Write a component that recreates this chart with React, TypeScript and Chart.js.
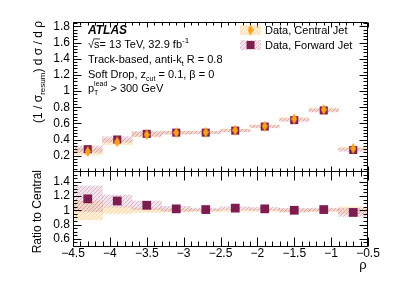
import React, { useEffect, useRef } from "react";
import { Chart, registerables } from "chart.js";
Chart.register(...registerables);

// ---------------- data ----------------
const binCenters = [-4.3, -3.9, -3.5, -3.1, -2.7, -2.3, -1.9, -1.5, -1.1, -0.7];
const centralValues = [0.25, 0.37, 0.46, 0.485, 0.49, 0.515, 0.565, 0.655, 0.77, 0.29];
const centralUnc = [0.04, 0.035, 0.03, 0.018, 0.015, 0.015, 0.015, 0.018, 0.02, 0.018];
const forwardValues = [0.28, 0.4, 0.47, 0.485, 0.485, 0.51, 0.56, 0.64, 0.76, 0.27];
const forwardUnc = [0.04, 0.035, 0.03, 0.018, 0.015, 0.015, 0.015, 0.018, 0.02, 0.018];
const ratioValues = [1.16, 1.13, 1.07, 1.02, 1.01, 1.03, 1.02, 1.0, 1.01, 0.97];
const ratioForwardUnc = [0.18, 0.085, 0.06, 0.035, 0.02, 0.02, 0.02, 0.025, 0.02, 0.055];
const ratioCentralUnc = [0.13, 0.045, 0.03, 0.02, 0.015, 0.015, 0.015, 0.02, 0.02, 0.05];
const xTicks = [-4.5, -4, -3.5, -3, -2.5, -2, -1.5, -1, -0.5];
const topYTicks = [0.2, 0.4, 0.6, 0.8, 1, 1.2, 1.4, 1.6, 1.8];
const ratioYTicks = [0.6, 0.8, 1, 1.2, 1.4];

const FAMILY = "'Liberation Sans', Arial, Helvetica, sans-serif";
const MAROON = "#7e1d50";
const ORANGE = "#f9a21c";

function hatch(bg: string, line: string) {
  const c = document.createElement("canvas");
  c.width = 4;
  c.height = 4;
  const g = c.getContext("2d")!;
  g.fillStyle = bg;
  g.fillRect(0, 0, 4, 4);
  g.strokeStyle = line;
  g.lineWidth = 1;
  g.beginPath();
  g.moveTo(0, 4);
  g.lineTo(4, 0);
  g.moveTo(-1, 1);
  g.lineTo(1, -1);
  g.moveTo(3, 5);
  g.lineTo(5, 3);
  g.stroke();
  return g.createPattern(c, "repeat")!;
}

function diamondImg(w: number, h: number, color: string) {
  const c = document.createElement("canvas");
  c.width = w;
  c.height = h;
  const g = c.getContext("2d")!;
  g.fillStyle = color;
  g.beginPath();
  g.moveTo(w / 2, 0);
  g.lineTo(w, h / 2);
  g.lineTo(w / 2, h);
  g.lineTo(0, h / 2);
  g.closePath();
  g.fill();
  return c;
}

const fmtY = (v: number) => String(Number(Number(v).toFixed(2)));
const fmtX = (v: number) => String(Number(Number(v).toFixed(2))).replace("-", "\u2212");

function range(a: number, b: number, step: number) {
  const out: number[] = [];
  for (let v = a; v <= b + 1e-9; v += step) out.push(Number(v.toFixed(4)));
  return out;
}

type FrameOpts = {
  yMinor: number[];
  xBottomMaj: number;
  xBottomMin: number;
  xTopMaj: number;
  xTopMin: number;
  yMaj: number;
  yMin: number;
};

function framePlugin(o: FrameOpts) {
  return {
    id: "frame",
    afterDraw(chart: any) {
      const { ctx, chartArea: a, scales } = chart;
      const x = scales.x;
      const y = scales.y;
      const L = Math.round(a.left) + 0.5;
      const R = Math.round(a.right) - 0.5;
      const T = Math.round(a.top) + 0.5;
      const B = Math.round(a.bottom) + 0.5;
      ctx.save();
      ctx.strokeStyle = "#000";
      ctx.lineWidth = 1;
      ctx.beginPath();
      ctx.rect(L, T, R - L, B - T);
      const xMinor = range(-4.5, -0.5, 0.1);
      for (const v of xMinor) {
        const isMaj = xTicks.some((t) => Math.abs(t - v) < 1e-6);
        const px = Math.round(x.getPixelForValue(v)) + 0.5;
        const lb = isMaj ? o.xBottomMaj : o.xBottomMin;
        const lt = isMaj ? o.xTopMaj : o.xTopMin;
        ctx.moveTo(px, B);
        ctx.lineTo(px, B - lb);
        ctx.moveTo(px, T);
        ctx.lineTo(px, T + lt);
      }
      const yMajVals: number[] = y.ticks.map((t: any) => t.value);
      for (const v of o.yMinor) {
        if (v < y.min || v > y.max) continue;
        const isMaj = yMajVals.some((t) => Math.abs(t - v) < 1e-6);
        const py = Math.round(y.getPixelForValue(v)) + 0.5;
        const l = isMaj ? o.yMaj : o.yMin;
        ctx.moveTo(L, py);
        ctx.lineTo(L + l, py);
        ctx.moveTo(R, py);
        ctx.lineTo(R - l, py);
      }
      ctx.stroke();
      ctx.restore();
    },
  };
}

type Seg = { t: string; size?: number; dy?: number; style?: string; noAdv?: boolean };

function drawSegs(ctx: CanvasRenderingContext2D, segs: Seg[], x: number, y: number, base: number) {
  let cx = x;
  for (const s of segs) {
    ctx.font = `${s.style || ""} ${s.size || base}px ${FAMILY}`;
    ctx.fillText(s.t, cx, y + (s.dy || 0));
    if (!s.noAdv) cx += ctx.measureText(s.t).width;
  }
  return cx;
}

function segsWidth(ctx: CanvasRenderingContext2D, segs: Seg[], base: number) {
  let w = 0;
  for (const s of segs) {
    ctx.font = `${s.style || ""} ${s.size || base}px ${FAMILY}`;
    if (!s.noAdv) w += ctx.measureText(s.t).width;
  }
  return w;
}

function drawRotatedEnd(ctx: CanvasRenderingContext2D, segs: Seg[], xBase: number, yEnd: number, base: number) {
  ctx.save();
  ctx.translate(xBase, yEnd);
  ctx.rotate(-Math.PI / 2);
  const w = segsWidth(ctx, segs, base);
  ctx.textBaseline = "alphabetic";
  drawSegs(ctx, segs, -w, 0, base);
  ctx.restore();
}

export default function App() {
  const topRef = useRef<HTMLCanvasElement>(null);
  const ratioRef = useRef<HTMLCanvasElement>(null);

  useEffect(() => {
    const pinkHatch = hatch("rgba(205,150,178,0.25)", "rgba(160,70,115,0.28)");
    const orangeHatch = hatch("rgba(255,215,160,0.45)", "rgba(255,180,100,0.32)");
    const diamond = diamondImg(6, 11, ORANGE);

    const centralBand = binCenters.map((c, i) => ({ x: c, y: [centralValues[i] - centralUnc[i], centralValues[i] + centralUnc[i]] }));
    const forwardBand = binCenters.map((c, i) => ({ x: c, y: [forwardValues[i] - forwardUnc[i], forwardValues[i] + forwardUnc[i]] }));
    const centralPts = binCenters.map((c, i) => ({ x: c, y: centralValues[i] }));
    const forwardPts = binCenters.map((c, i) => ({ x: c, y: forwardValues[i] }));
    const ratioCentralBand = binCenters.map((c, i) => ({ x: c, y: [1 - ratioCentralUnc[i], 1 + ratioCentralUnc[i]] }));
    const ratioForwardBand = binCenters.map((c, i) => ({ x: c, y: [ratioValues[i] - ratioForwardUnc[i], ratioValues[i] + ratioForwardUnc[i]] }));
    const ratioPts = binCenters.map((c, i) => ({ x: c, y: ratioValues[i] }));

    const barCommon = { grouped: false, barPercentage: 1, categoryPercentage: 1, borderWidth: 0 };

    const textPlugin = {
      id: "texts",
      afterDraw(chart: any) {
        const ctx: CanvasRenderingContext2D = chart.ctx;
        ctx.save();
        ctx.fillStyle = "#000";
        ctx.textBaseline = "alphabetic";
        ctx.textAlign = "left";
        const x0 = 88;
        drawSegs(ctx, [{ t: "ATLAS", style: "italic bold" }], x0, 34, 12);
        const end = drawSegs(ctx, [{ t: "\u221A" }], x0, 48, 11);
        const sx = end;
        drawSegs(ctx, [{ t: "s" }], sx, 48, 11);
        ctx.font = `11px ${FAMILY}`;
        const sw = ctx.measureText("s").width;
        ctx.fillRect(sx - 0.5, 38.5, sw + 1, 0.8);
        drawSegs(ctx, [{ t: "= 13 TeV, 32.9 fb" }, { t: "-1", size: 8, dy: -5 }], sx + sw, 48, 11);
        drawSegs(ctx, [{ t: "Track-based, anti-k" }, { t: "t", size: 7, dy: 3 }, { t: " R = 0.8" }], x0, 63, 11);
        drawSegs(ctx, [{ t: "Soft Drop, z" }, { t: "cut", size: 7, dy: 3 }, { t: " = 0.1, \u03B2 = 0" }], x0, 77.5, 11);
        drawSegs(ctx, [{ t: "p" }, { t: "T", size: 7, dy: 3, noAdv: true }, { t: "lead", size: 7, dy: -6 }, { t: " > 300 GeV" }], x0, 92, 11);

        // legend
        const bx = 240, bw = 21, bh = 10;
        const rows = [
          { y: 30, fill: orangeHatch, label: "Data, Central Jet", kind: "d" },
          { y: 45, fill: pinkHatch, label: "Data, Forward Jet", kind: "s" },
        ];
        for (const r of rows) {
          ctx.fillStyle = r.fill as any;
          ctx.fillRect(bx, r.y - bh / 2, bw, bh);
          if (r.kind === "d") {
            ctx.drawImage(diamond, bx + bw / 2 - 3, r.y - 5.5);
          } else {
            ctx.fillStyle = MAROON;
            ctx.fillRect(bx + bw / 2 - 4, r.y - 4, 8, 8);
          }
          ctx.fillStyle = "#000";
          ctx.font = `11px ${FAMILY}`;
          ctx.textBaseline = "middle";
          ctx.fillText(r.label, 265, r.y + 0.5);
          ctx.textBaseline = "alphabetic";
        }

        // y title
        drawRotatedEnd(
          ctx,
          [{ t: "(1 / \u03C3" }, { t: "resum", size: 8, dy: 3 }, { t: ") d \u03C3 / d \u03C1" }],
          41.5,
          21,
          12
        );
        ctx.restore();
      },
    };

    const topChart = new Chart(topRef.current!, {
      type: "bar",
      data: {
        datasets: [
          { type: "line", data: centralPts, showLine: false, pointStyle: diamond as any, pointRadius: 5, pointHoverRadius: 5, order: 0 } as any,
          { type: "line", data: forwardPts, showLine: false, pointStyle: "rect", pointRadius: 5.7, pointHoverRadius: 5.7, backgroundColor: MAROON, borderColor: MAROON, borderWidth: 0, order: 1 } as any,
          { type: "bar", data: forwardBand, backgroundColor: pinkHatch as any, order: 2, ...barCommon } as any,
          { type: "bar", data: centralBand, backgroundColor: orangeHatch as any, order: 3, ...barCommon } as any,
        ],
      },
      options: {
        animation: false,
        responsive: false,
        devicePixelRatio: 1,
        events: [],
        layout: { padding: { top: 22, right: 31, bottom: 286 - 171, left: 0 } },
        plugins: { legend: { display: false }, tooltip: { enabled: false } },
        scales: {
          x: { type: "linear", min: -4.5, max: -0.5, display: false, offset: false, grid: { offset: false } },
          y: {
            type: "linear",
            min: 0.01,
            max: 1.855,
            afterFit: (s: any) => {
              s.width = 73;
            },
            afterBuildTicks: (s: any) => {
              s.ticks = topYTicks.map((v) => ({ value: v }));
            },
            ticks: { callback: (v: any) => fmtY(v), font: { family: FAMILY, size: 12 }, color: "#000", padding: 3 },
            grid: { display: false, drawTicks: false },
            border: { display: false },
          },
        },
      } as any,
      plugins: [
        framePlugin({ yMinor: range(0.04, 1.84, 0.04), xBottomMaj: 5, xBottomMin: 3, xTopMaj: 5, xTopMin: 3, yMaj: 8, yMin: 4 }),
        textPlugin,
      ],
    });

    const ratioText = {
      id: "ratioTexts",
      afterDraw(chart: any) {
        const ctx: CanvasRenderingContext2D = chart.ctx;
        ctx.save();
        ctx.fillStyle = "#000";
        drawRotatedEnd(ctx, [{ t: "Ratio to Central" }], 41, 170, 12);
        ctx.font = `13px ${FAMILY}`;
        ctx.textAlign = "center";
        ctx.textBaseline = "middle";
        ctx.fillText("\u03C1", 363, 265);
        ctx.restore();
      },
    };

    const ratioChart = new Chart(ratioRef.current!, {
      type: "bar",
      data: {
        datasets: [
          { type: "line", data: ratioPts, showLine: false, pointStyle: "rect", pointRadius: 6.2, pointHoverRadius: 6.2, backgroundColor: MAROON, borderColor: MAROON, borderWidth: 0, order: 0 } as any,
          { type: "bar", data: ratioForwardBand, backgroundColor: pinkHatch as any, order: 2, ...barCommon } as any,
          { type: "bar", data: ratioCentralBand, backgroundColor: orangeHatch as any, order: 3, ...barCommon } as any,
        ],
      },
      options: {
        animation: false,
        responsive: false,
        devicePixelRatio: 1,
        events: [],
        layout: { padding: { top: 171, right: 31, bottom: 0, left: 0 } },
        plugins: { legend: { display: false }, tooltip: { enabled: false } },
        scales: {
          x: {
            type: "linear",
            min: -4.5,
            max: -0.5,
            offset: false,
            afterFit: (s: any) => {
              s.height = 40;
            },
            afterBuildTicks: (s: any) => {
              s.ticks = xTicks.map((v) => ({ value: v }));
            },
            ticks: { callback: (v: any) => fmtX(v), font: { family: FAMILY, size: 12 }, color: "#000", padding: 0, autoSkip: false, maxRotation: 0, minRotation: 0 },
            grid: { display: false, drawTicks: false, offset: false },
            border: { display: false },
          },
          y: {
            type: "linear",
            min: 0.5,
            max: 1.55,
            afterFit: (s: any) => {
              s.width = 73;
            },
            afterBuildTicks: (s: any) => {
              s.ticks = ratioYTicks.map((v) => ({ value: v }));
            },
            ticks: { callback: (v: any) => fmtY(v), font: { family: FAMILY, size: 12 }, color: "#000", padding: 3 },
            grid: { display: false, drawTicks: false },
            border: { display: false },
          },
        },
      } as any,
      plugins: [
        framePlugin({ yMinor: range(0.5, 1.55, 0.05), xBottomMaj: 9, xBottomMin: 5, xTopMaj: 9, xTopMin: 5, yMaj: 8, yMin: 4 }),
        ratioText,
      ],
    });

    return () => {
      topChart.destroy();
      ratioChart.destroy();
    };
  }, []);

  const cs: React.CSSProperties = { position: "absolute", left: 0, top: 0, width: 399, height: 286 };
  return (
    <div style={{ position: "absolute", left: 0, top: 0, width: 399, height: 286, background: "#fff" }}>
      <canvas ref={topRef} width={399} height={286} style={cs} />
      <canvas ref={ratioRef} width={399} height={286} style={cs} />
    </div>
  );
}
